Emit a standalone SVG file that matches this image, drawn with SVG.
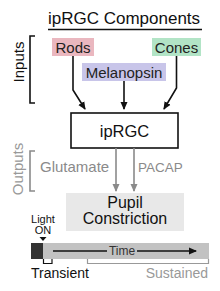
<svg xmlns="http://www.w3.org/2000/svg" width="220" height="291" viewBox="0 0 220 291">
<style>
text{font-family:"Liberation Sans",Arial,sans-serif}
.blk{stroke:#111;stroke-width:1.6;fill:none}
.gry{stroke:#8a8a8a;stroke-width:1.6;fill:none}
</style>
<defs>
<marker id="ah" markerWidth="8" markerHeight="8" refX="7" refY="4" orient="auto" markerUnits="userSpaceOnUse"><path d="M0,0.5 L8,4 L0,7.5 Z" fill="#111"/></marker>
<marker id="ahg" markerWidth="8" markerHeight="8" refX="7" refY="4" orient="auto" markerUnits="userSpaceOnUse"><path d="M0,0.5 L8,4 L0,7.5 Z" fill="#8a8a8a"/></marker>
</defs>
<rect width="220" height="291" fill="#fff"/>
<g id="title">
<text x="124" y="24" font-size="17" text-anchor="middle" fill="#111">ipRGC Components</text>
<line x1="48" y1="29.5" x2="202" y2="29.5" stroke="#111" stroke-width="1.3"/>
</g>
<g id="inputs-label">
<text transform="translate(24,62) rotate(-90)" font-size="15" text-anchor="middle" fill="#111">Inputs</text>
<path class="blk" d="M35,36 H30 V103 H35" stroke-width="1.3"/>
</g>
<g id="rods">
<rect x="52" y="38" width="42" height="18" fill="#eab7bf"/>
<text x="73" y="53" font-size="15" text-anchor="middle" fill="#222">Rods</text>
</g>
<g id="cones">
<rect x="152" y="38" width="49" height="18" fill="#b2e4c6"/>
<text x="176.5" y="53" font-size="15" text-anchor="middle" fill="#222">Cones</text>
</g>
<g id="melanopsin">
<rect x="82" y="63" width="84" height="18" fill="#c8c5e9"/>
<text x="124" y="78" font-size="15" text-anchor="middle" fill="#222">Melanopsin</text>
</g>
<g id="iprgc">
<rect x="71" y="113" width="107" height="35" fill="#fff" stroke="#111" stroke-width="1.6"/>
<text x="124.5" y="136.5" font-size="16.5" text-anchor="middle" fill="#111">ipRGC</text>
</g>
<g id="outputs-label">
<text transform="translate(23,169) rotate(-90)" font-size="15" text-anchor="middle" fill="#999">Outputs</text>
<path class="gry" d="M35,151 H30 V191 H35" stroke="#aaa" stroke-width="1.3"/>
<text x="40" y="172" font-size="15" fill="#8a8a8a">Glutamate</text>
<text x="138" y="172" font-size="13.5" fill="#8a8a8a">PACAP</text>
</g>
<g id="pupil">
<rect x="66" y="193" width="118" height="38" fill="#e8e8e8"/>
<text x="125" y="208" font-size="16" text-anchor="middle" fill="#111">Pupil</text>
<text x="125" y="224" font-size="16" text-anchor="middle" fill="#111">Constriction</text>
</g>
<g id="connectors">
<path class="blk" d="M73,56 V90 L85,109" marker-end="url(#ah)"/>
<path class="blk" d="M124,81 V109" marker-end="url(#ah)"/>
<path class="blk" d="M176.5,56 V88 L164,109" marker-end="url(#ah)"/>
<path class="gry" d="M116,148 V191" marker-end="url(#ahg)"/>
<path class="gry" d="M134,148 V191" marker-end="url(#ahg)"/>
</g>
<g id="timeline">
<text x="43" y="223" font-size="11" text-anchor="middle" fill="#111">Light</text>
<text x="43" y="234" font-size="11" text-anchor="middle" fill="#111">ON</text>
<path d="M39.5,237 H46.5 L43,241 Z" fill="#111"/>
<rect x="31" y="243" width="178" height="16" fill="#c2c2c2"/>
<rect x="31" y="243" width="12" height="16" fill="#333"/>
<line x1="53" y1="251" x2="107" y2="251" stroke="#111" stroke-width="1.5"/>
<text x="122" y="255" font-size="12" text-anchor="middle" fill="#333">Time</text>
<line x1="137" y1="251" x2="196" y2="251" stroke="#111" stroke-width="1.5" marker-end="url(#ah)"/>
<path d="M43.5,259 V263.5 H52 V259" fill="none" stroke="#111" stroke-width="1.2"/>
<path d="M87.5,259 V263.5 H208.5 V259" fill="none" stroke="#999" stroke-width="1.2"/>
<text x="31" y="278" font-size="14" fill="#111">Transient</text>
<text x="208" y="278" font-size="14" text-anchor="end" fill="#999">Sustained</text>
</g>
</svg>
